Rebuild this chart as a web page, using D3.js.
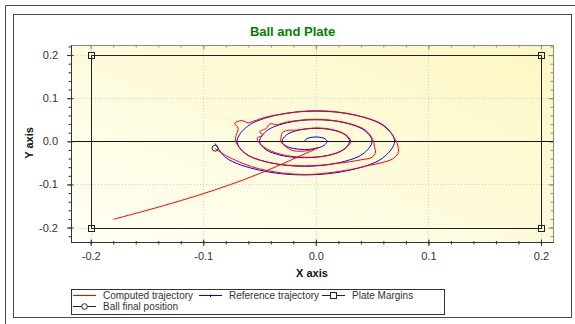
<!DOCTYPE html>
<html>
<head>
<meta charset="utf-8">
<script src="https://cdn.jsdelivr.net/npm/d3@7"></script>
<style>
  body { margin: 0; background: #ffffff; }
  text { font-family: "Liberation Sans", Arial, sans-serif; }
</style>
</head>
<body>
<script>
// reference spiral (blue)
var refX = [-0.01,-0.0087,-0.005,0,0.005,0.0087,0.01,
  0.0073,0,-0.01,-0.02,-0.0273,-0.03,
  -0.026,-0.015,0,0.015,0.026,0.03,
  0.0246,0.01,-0.01,-0.03,-0.0446,-0.05,
  -0.0433,-0.025,0,0.025,0.0433,0.05,
  0.042,0.02,-0.01,-0.04,-0.062,-0.07,
  -0.0606,-0.035,0,0.035,0.0606,0.07,
  0.0593,0.03,-0.01,-0.05,-0.0793,-0.0895];
var refY = [0,0.005,0.0087,0.01,0.0087,0.005,0,
  -0.0095,-0.0165,-0.019,-0.0165,-0.0095,0,
  0.015,0.026,0.03,0.026,0.015,0,
  -0.019,-0.033,-0.038,-0.033,-0.019,0,
  0.025,0.0433,0.05,0.0433,0.025,0,
  -0.029,-0.05,-0.058,-0.05,-0.029,0,
  0.035,0.0606,0.07,0.0606,0.035,0,
  -0.039,-0.067,-0.078,-0.067,-0.039,-0.005];

// computed trajectory (red)
var compX = [-0.180,-0.150,-0.120,-0.100,-0.080,-0.064,-0.040,-0.018,0.002,
  -0.006,-0.013,-0.021,-0.027,-0.031,
  -0.031,-0.030,-0.026,-0.017,0,0.015,0.026,0.031,
  0.025,0.011,-0.010,-0.030,-0.044,-0.051,
  -0.052,-0.047,-0.050,-0.044,-0.041,-0.034,-0.025,0,0.025,0.044,0.051,
  0.052,0.053,0.050,0.040,0.020,-0.010,-0.040,-0.062,-0.071,
  -0.071,-0.069,-0.072,-0.066,-0.060,-0.056,-0.047,-0.035,0,0.035,0.061,0.071,
  0.073,0.073,0.068,0.058,0.047,0.030,-0.010,-0.050,-0.077,-0.0895];
var compY = [-0.181,-0.160,-0.1375,-0.1215,-0.104,-0.089,-0.064,-0.0387,-0.0147,
  -0.021,-0.023,-0.021,-0.012,-0.001,
  0.008,0.019,0.025,0.026,0.031,0.027,0.016,0.001,
  -0.019,-0.033,-0.037,-0.031,-0.017,-0.001,
  0.008,0.014,0.022,0.030,0.040,0.039,0.045,0.051,0.044,0.026,0.002,
  -0.012,-0.025,-0.037,-0.043,-0.051,-0.057,-0.050,-0.030,-0.001,
  0.012,0.030,0.042,0.048,0.043,0.046,0.054,0.061,0.071,0.061,0.036,0.002,
  -0.012,-0.028,-0.041,-0.050,-0.056,-0.066,-0.077,-0.064,-0.037,-0.017];

var plateX = [-0.2, 0.2, 0.2, -0.2, -0.2];
var plateY = [-0.2, -0.2, 0.2, 0.2, -0.2];
var finalX = [-0.0895];
var finalY = [-0.016];

var xTicks = [-0.2, -0.1, 0, 0.1, 0.2];
var xTickLabels = ["-0.2", "-0.1", "0.0", "0.1", "0.2"];
var yTicks = [-0.2, -0.1, 0, 0.1, 0.2];
var yTickLabels = ["-0.2", "-0.1", "0.0", "0.1", "0.2"];
var xMinor = [-0.2,-0.18,-0.16,-0.14,-0.12,-0.1,-0.08,-0.06,-0.04,-0.02,0,0.02,0.04,0.06,0.08,0.1,0.12,0.14,0.16,0.18,0.2];
var yMinor = [-0.22,-0.2,-0.18,-0.16,-0.14,-0.12,-0.1,-0.08,-0.06,-0.04,-0.02,0,0.02,0.04,0.06,0.08,0.1,0.12,0.14,0.16,0.18,0.2,0.22];
var legendNames = ["Computed trajectory", "Reference trajectory", "Plate Margins", "Ball final position"];

var plot = {left: 71, right: 553, top: 45, bottom: 242};
var totalWidth = 575;
var totalHeight = 324;

var svg = d3.select("body")
    .append("svg")
    .attr("width", totalWidth)
    .attr("height", totalHeight);

// window frames
svg.append("path")
    .attr("d", "M5.5,324V5.5H575")
    .attr("fill", "none").attr("stroke", "#4a4a4a");
svg.append("rect")
    .attr("x", 13.5).attr("y", 14.5).attr("width", 558).attr("height", 303)
    .attr("fill", "none").attr("stroke", "#4a4a4a");

var xScale = d3.scaleLinear()
    .domain([-0.2175, 0.2107])
    .range([plot.left, plot.right]);
var yScale = d3.scaleLinear()
    .domain([-0.2335, 0.2233])
    .range([plot.bottom, plot.top]);

// plot background
var defs = svg.append("defs");
var grad = defs.append("linearGradient")
    .attr("id", "bg").attr("x1", "0%").attr("y1", "100%").attr("x2", "100%").attr("y2", "0%");
grad.append("stop").attr("offset", "0%").attr("stop-color", "#fffff4");
grad.append("stop").attr("offset", "100%").attr("stop-color", "#fcf7c2");
svg.append("rect")
    .attr("x", plot.left).attr("y", plot.top)
    .attr("width", plot.right - plot.left).attr("height", plot.bottom - plot.top)
    .attr("fill", "url(#bg)");

// grid
var grid = svg.append("g").attr("stroke", "#cfcfcf").attr("stroke-dasharray", "1,2");
grid.selectAll(".gx").data(xTicks).enter().append("line")
    .attr("x1", d => Math.round(xScale(d)) + 0.5).attr("x2", d => Math.round(xScale(d)) + 0.5)
    .attr("y1", plot.top).attr("y2", plot.bottom);
grid.selectAll(".gy").data(yTicks).enter().append("line")
    .attr("y1", d => Math.round(yScale(d)) + 0.5).attr("y2", d => Math.round(yScale(d)) + 0.5)
    .attr("x1", plot.left).attr("x2", plot.right);

// top and right frame with inward ticks
function styleAxis(g, col) {
  g.select(".domain").attr("stroke", col);
  g.selectAll(".tick line").attr("stroke", col);
  g.selectAll("text").remove();
}
var topMinor = svg.append("g").attr("transform", "translate(0," + plot.top + ")")
    .call(d3.axisTop(xScale).tickValues(xMinor).tickSize(-2.5).tickSizeOuter(0).tickFormat(""));
styleAxis(topMinor, "#8a8a8a");
var topMajor = svg.append("g").attr("transform", "translate(0," + plot.top + ")")
    .call(d3.axisTop(xScale).tickValues(xTicks).tickSize(-4.5).tickSizeOuter(0).tickFormat(""));
styleAxis(topMajor, "#8a8a8a");
var rightMinor = svg.append("g").attr("transform", "translate(" + plot.right + ",0)")
    .call(d3.axisRight(yScale).tickValues(yMinor).tickSize(-2.5).tickSizeOuter(0).tickFormat(""));
styleAxis(rightMinor, "#8a8a8a");
var rightMajor = svg.append("g").attr("transform", "translate(" + plot.right + ",0)")
    .call(d3.axisRight(yScale).tickValues(yTicks).tickSize(-4.5).tickSizeOuter(0).tickFormat(""));
styleAxis(rightMajor, "#8a8a8a");

// zero line
svg.append("line")
    .attr("x1", plot.left).attr("x2", plot.right)
    .attr("y1", Math.round(yScale(0)) + 0.5).attr("y2", Math.round(yScale(0)) + 0.5)
    .attr("stroke", "#111");

// plate margins
var plate = d3.zip(plateX, plateY);
svg.append("path").datum(plate)
    .attr("d", d3.line().x(d => Math.round(xScale(d[0])) + 0.5).y(d => Math.round(yScale(d[1])) + 0.5))
    .attr("fill", "none").attr("stroke", "#222");
svg.selectAll(".corner").data(plate.slice(0, 4)).enter().append("rect")
    .attr("x", d => Math.round(xScale(d[0])) - 2.5).attr("y", d => Math.round(yScale(d[1])) - 2.5)
    .attr("width", 6).attr("height", 6)
    .attr("fill", "none").attr("stroke", "#222");

// trajectories
var smooth = d3.line().x(d => xScale(d[0])).y(d => yScale(d[1])).curve(d3.curveCatmullRom.alpha(0.5));
svg.append("path").datum(d3.zip(refX, refY))
    .attr("d", smooth).attr("fill", "none").attr("stroke", "#0000ff").attr("stroke-width", 1);
svg.append("path").datum(d3.zip(compX, compY))
    .attr("d", smooth).attr("fill", "none").attr("stroke", "#ff0000").attr("stroke-width", 1);

// final position
svg.selectAll(".final").data(d3.zip(finalX, finalY)).enter().append("circle")
    .attr("cx", d => xScale(d[0])).attr("cy", d => yScale(d[1])).attr("r", 3)
    .attr("fill", "none").attr("stroke", "#333");

// left / bottom axes
var xAxisg = svg.append("g").attr("transform", "translate(0," + plot.bottom + ")");
xAxisg.call(d3.axisBottom(xScale).tickValues(xMinor).tickSize(2.5).tickSizeOuter(0).tickFormat(""));
xAxisg.selectAll(".tick line").attr("y1", -1);
var xMajorg = svg.append("g").attr("transform", "translate(0," + plot.bottom + ")");
xMajorg.call(d3.axisBottom(xScale).tickValues(xTicks).tickSize(4).tickPadding(6)
    .tickSizeOuter(0).tickFormat((d, i) => xTickLabels[i]));
xMajorg.selectAll(".tick line").attr("y1", -2.5);

var yAxisg = svg.append("g").attr("transform", "translate(" + plot.left + ",0)");
yAxisg.call(d3.axisLeft(yScale).tickValues(yMinor).tickSize(2.5).tickSizeOuter(0).tickFormat(""));
yAxisg.selectAll(".tick line").attr("x1", 1);
var yMajorg = svg.append("g").attr("transform", "translate(" + plot.left + ",0)");
yMajorg.call(d3.axisLeft(yScale).tickValues(yTicks).tickSize(4).tickPadding(9)
    .tickSizeOuter(0).tickFormat((d, i) => yTickLabels[i]));
yMajorg.selectAll(".tick line").attr("x1", 2.5);

[xAxisg, xMajorg, yAxisg, yMajorg].forEach(function(g) {
  g.select(".domain").attr("stroke", "#333");
  g.selectAll(".tick line").attr("stroke", "#333");
  g.selectAll("text").attr("fill", "#333").attr("font-size", 11)
    .attr("font-family", "'Liberation Sans', Arial, sans-serif");
});

// titles
svg.append("text")
    .attr("x", 292.5).attr("y", 35.5).attr("text-anchor", "middle")
    .attr("font-size", 13).attr("font-weight", "bold").attr("fill", "#008000")
    .text("Ball and Plate");
svg.append("text")
    .attr("x", 312).attr("y", 277).attr("text-anchor", "middle")
    .attr("font-size", 11).attr("font-weight", "bold").attr("fill", "#111")
    .text("X axis");
svg.append("text")
    .attr("transform", "translate(33,143) rotate(-90)").attr("text-anchor", "middle")
    .attr("font-size", 11).attr("font-weight", "bold").attr("fill", "#111")
    .text("Y axis");

// legend
var legend = svg.append("g");
legend.append("rect")
    .attr("x", 71.5).attr("y", 289.5).attr("width", 373).attr("height", 25)
    .attr("fill", "#fff").attr("stroke", "#333");
var items = [
  {x: 73, y: 295.5, color: "#ff0000", mark: null},
  {x: 199, y: 295.5, color: "#0000ff", mark: "dot"},
  {x: 322, y: 295.5, color: "#222", mark: "square"},
  {x: 73, y: 306.5, color: "#222", mark: "circle"}
];
items.forEach(function(it, i) {
  legend.append("line")
    .attr("x1", it.x).attr("x2", it.x + 23).attr("y1", it.y).attr("y2", it.y)
    .attr("stroke", it.color);
  var cx = it.x + 11.5;
  if (it.mark === "dot") {
    legend.append("line").attr("x1", cx).attr("x2", cx).attr("y1", it.y - 1).attr("y2", it.y + 1.5)
      .attr("stroke", it.color);
  } else if (it.mark === "square") {
    legend.append("rect").attr("x", cx - 3).attr("y", it.y - 3).attr("width", 6).attr("height", 6)
      .attr("fill", "#fff").attr("stroke", it.color);
  } else if (it.mark === "circle") {
    legend.append("circle").attr("cx", cx).attr("cy", it.y).attr("r", 2.8)
      .attr("fill", "#fff").attr("stroke", it.color);
  }
  legend.append("text")
    .attr("x", it.x + 30).attr("y", it.y + 3.8)
    .attr("font-size", 10).attr("fill", "#333")
    .text(legendNames[i]);
});
</script>
</body>
</html>
